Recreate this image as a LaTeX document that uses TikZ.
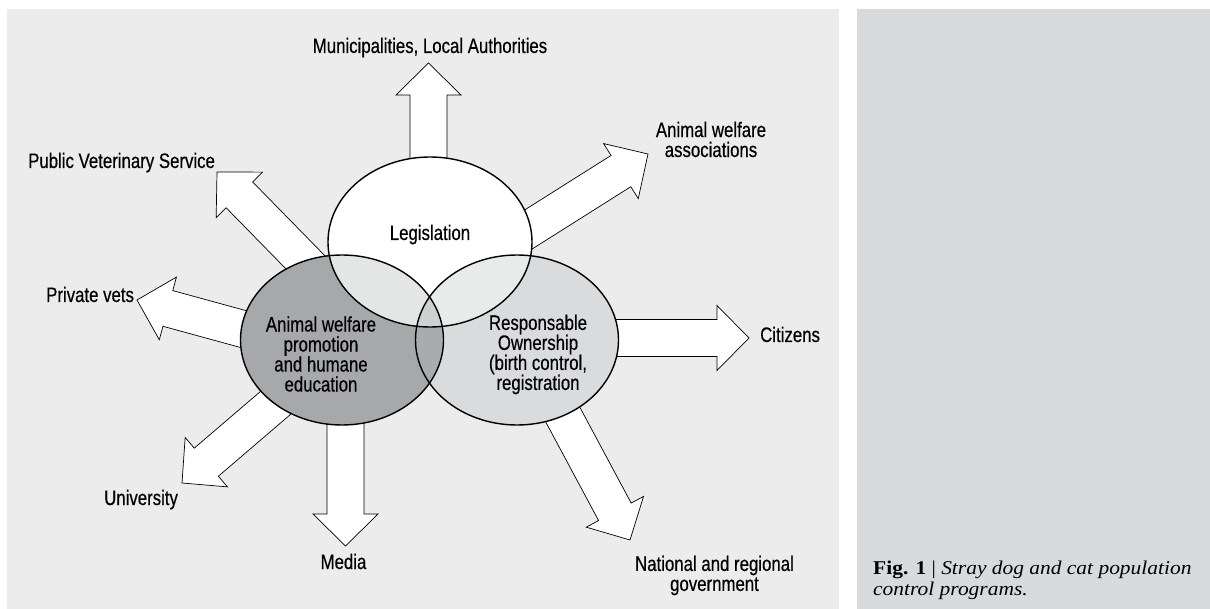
\documentclass[tikz,border=0pt]{standalone}
\usepackage{fontspec}
\setmainfont{Liberation Sans}[FakeStretch=0.8,FakeBold=0.4]
\newfontfamily\capfont{Liberation Serif}[FakeStretch=1.1]
\usetikzlibrary{calc,shapes.geometric}
\definecolor{panelL}{HTML}{ECECEC}
\definecolor{panelR}{HTML}{D9DADC}
\definecolor{awfill}{HTML}{A7A8AA}
\definecolor{rofill}{HTML}{DADBDD}
\definecolor{legaw}{HTML}{E4E5E5}
\definecolor{legro}{HTML}{E9EAEA}
\definecolor{awro}{HTML}{AAABAD}
\definecolor{triplec}{HTML}{CFD0D1}
\newcommand{\blockarr}[2]{%
  \coordinate (ba-b) at ($(#2)!32pt!(#1)$);
  \draw[blockarrow] ($(#1)!18.5pt!90:(#2)$) -- ($(ba-b)!18.5pt!90:(#2)$) -- ($(ba-b)!32.5pt!90:(#2)$) -- (#2) -- ($(ba-b)!32.5pt!-90:(#2)$) -- ($(ba-b)!18.5pt!-90:(#2)$) -- ($(#1)!18.5pt!-90:(#2)$) -- cycle;
}
\begin{document}
\begin{tikzpicture}[x=1pt,y=-1pt,
  blockarrow/.style={draw=black, fill=white, line width=0.7pt, line join=miter},
  ring/.style={ellipse, draw=black, line width=1.4pt, minimum width=204pt, minimum height=170pt, inner sep=0pt},
  lbl/.style={font=\fontsize{21}{20}\selectfont, inner sep=0pt, align=center}]
\useasboundingbox (0,0) rectangle (1210,609);
\fill[white] (0,0) rectangle (1210,609);
\fill[panelL] (7,9) rectangle (839,609);
\fill[panelR] (857,9) rectangle (1210,609);

% arrow start and tip coordinates
\coordinate (mun-s) at (428.5,200);  \coordinate (mun-t) at (428.5,63);
\coordinate (awa-s) at (480,260);    \coordinate (awa-t) at (648,154);
\coordinate (pvs-s) at (357,315);    \coordinate (pvs-t) at (217,172);
\coordinate (prv-s) at (349,358);    \coordinate (prv-t) at (137,300);
\coordinate (uni-s) at (349,340);    \coordinate (uni-t) at (182,483);
\coordinate (med-s) at (345.5,380);  \coordinate (med-t) at (345.5,546);
\coordinate (nat-s) at (526,346);    \coordinate (nat-t) at (630,540);
\coordinate (cit-s) at (560,338);    \coordinate (cit-t) at (749,338);

\blockarr{mun-s}{mun-t}
\blockarr{awa-s}{awa-t}
\blockarr{pvs-s}{pvs-t}
\blockarr{prv-s}{prv-t}
\blockarr{uni-s}{uni-t}
\blockarr{med-s}{med-t}
\blockarr{nat-s}{nat-t}
\blockarr{cit-s}{cit-t}

% ellipse fills
\fill[awfill] (342,340) ellipse [x radius=101.5pt, y radius=85pt];
\fill[rofill] (517,340) ellipse [x radius=101.5pt, y radius=85pt];
\fill[white] (430,242) ellipse [x radius=102pt, y radius=85pt];
\begin{scope}
  \clip (430,242) ellipse [x radius=102pt, y radius=85pt];
  \fill[legaw] (342,340) ellipse [x radius=101.5pt, y radius=85pt];
  \fill[legro] (517,340) ellipse [x radius=101.5pt, y radius=85pt];
\end{scope}
\begin{scope}
  \clip (342,340) ellipse [x radius=101.5pt, y radius=85pt];
  \fill[awro] (517,340) ellipse [x radius=101.5pt, y radius=85pt];
\end{scope}
\begin{scope}
  \clip (430,242) ellipse [x radius=102pt, y radius=85pt];
  \clip (342,340) ellipse [x radius=101.5pt, y radius=85pt];
  \fill[triplec] (517,340) ellipse [x radius=101.5pt, y radius=85pt];
\end{scope}

% ellipse outlines
\node[ring] (leg) at (430,242) {};
\node[ring, minimum width=203pt] (aw) at (342,340) {};
\node[ring, minimum width=203pt] (ro) at (517,340) {};

% texts in ellipses
\node[lbl, anchor=base] (legT) at (430,240) {Legislation};
\node[lbl] (awT) at (321,354) {Animal welfare\\promotion\\and humane\\education};
\node[lbl] (roT) at (538,354.5) {Responsable\\Ownership\\(birth control,\\registration};

% outer labels
\node[lbl, anchor=base] (munL) at (430,53) {Municipalities, Local Authorities};
\node[lbl] (awaL) at (711,139.5) {Animal welfare\\associations};
\node[lbl, anchor=base west] (pvsL) at (28,168) {Public Veterinary Service};
\node[lbl, anchor=base west] (prvL) at (46,302) {Private vets};
\node[lbl, anchor=base west] (citL) at (760,342) {Citizens};
\node[lbl, anchor=base west] (uniL) at (104,505) {University};
\node[lbl, anchor=base] (medL) at (343.5,569) {Media};
\node[lbl] (natL) at (714.5,575.5) {National and regional\\government};

% caption
\node[inner sep=0pt, anchor=base west, align=left, font=\capfont\fontsize{19.5}{21}\selectfont] (cap) at (873,595) {\textbf{Fig. 1} | \textit{Stray dog and cat population}\\\textit{control programs.}};
\end{tikzpicture}
\end{document}
